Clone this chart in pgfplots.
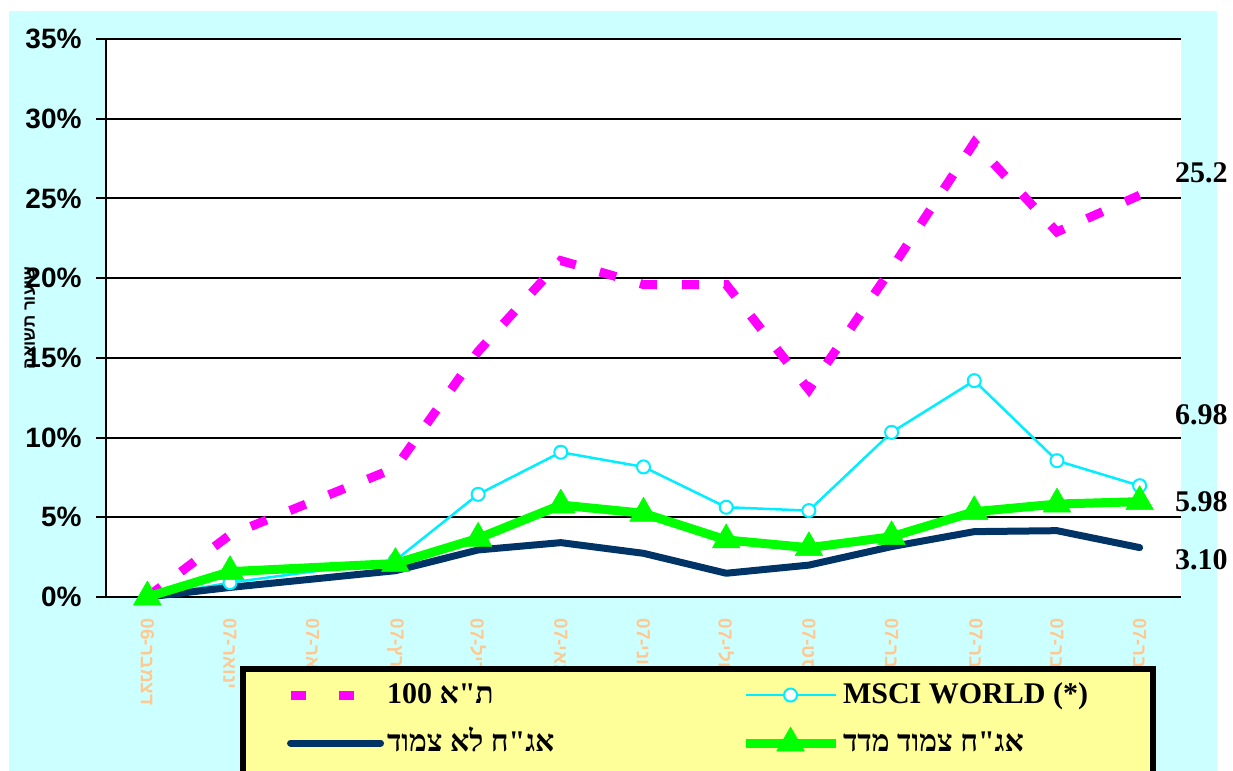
\documentclass[border=0pt]{standalone}
\usepackage{pgfplots}
\pgfplotsset{compat=1.18}
\usepackage{fontspec}
\setmainfont{Liberation Serif}
\newfontfamily\hebserif[Script=Hebrew]{Liberation Serif}
\newfontfamily\hebsans[Script=Hebrew]{Liberation Sans}
\newfontfamily\arialf{Liberation Sans}
\TeXXeTstate=1
\definecolor{bgcyan}{HTML}{CCFFFF}
\definecolor{tamag}{HTML}{FF00FF}
\definecolor{msci}{HTML}{00EEFF}
\definecolor{navyb}{HTML}{003366}
\definecolor{greenb}{HTML}{00FF00}
\definecolor{legy}{HTML}{FFFF99}
\definecolor{tickor}{HTML}{FFC890}
\newcommand{\xl}[1]{\beginR #1-\beginL07\endL\endR}
\pgfplotsset{
  dashleg/.style={legend image code/.code={\draw[##1, dash pattern=on 15bp off 33bp] (0bp,0bp) -- (63bp,0bp);}},
  stdleg/.style={legend image code/.code={\draw[mark repeat=2,mark phase=2,##1] plot coordinates {(0bp,0bp) (45bp,0bp) (90bp,0bp)};}},
}
\begin{document}
\begin{tikzpicture}
\fill[white] (0bp,0bp) rectangle (1233bp,771bp);
\fill[bgcyan] (9bp,0bp) rectangle (1217bp,760bp);
\begin{axis}[
  at={(106bp,174bp)}, anchor=south west, scale only axis,
  width=1075bp, height=558bp,
  xmin=-0.5, xmax=12.5, ymin=0, ymax=35,
  axis background/.style={fill=white},
  clip=false,
  axis x line*=bottom, axis y line*=left,
  axis line style={line width=2.5bp, black, -},
  xtick={0,...,12},
  xticklabels={{\beginR דצמבר-\beginL06\endL\endR},\xl{ינואר},\xl{פברואר},\xl{מרץ},\xl{אפריל},\xl{מאי},\xl{יוני},\xl{יולי},\xl{אוגוסט},\xl{ספטמבר},\xl{אוקטובר},\xl{נובמבר},\xl{דצמבר}},
  x tick style={draw=none},
  xticklabel style={rotate=-90, anchor=west, text=tickor, xshift=8bp, font=\hebsans\bfseries\fontsize{19bp}{22bp}\selectfont},
  ytick={0,5,...,35},
  yticklabels={0\%,5\%,10\%,15\%,20\%,25\%,30\%,35\%},
  ymajorgrids, grid style={black, line width=2bp},
  y tick style={black, line width=2bp}, tick align=outside, major tick length=10bp,
  yticklabel style={font=\arialf\bfseries\fontsize{28bp}{30bp}\selectfont, xshift=-11bp},
  legend style={
    at={(axis description cs:0.1247,-0.1237)}, anchor=north west,
    fill=legy, draw=black, line width=6bp,
    inner xsep=43bp, inner ysep=9bp,
    /tikz/every even column/.append style={column sep=20bp},
    row sep=14bp,
    nodes={inner xsep=3bp, inner ysep=3bp, text height=22bp, text depth=6bp, font=\bfseries\fontsize{30bp}{34bp}\selectfont},
  },
  legend columns=2,
  legend cell align=left,
  stdleg,
]
\addplot[tamag, line width=9bp, dash pattern=on 17bp off 25bp, dashleg]
  coordinates {(0,0) (1,3.9) (3,8.1) (4,15.4) (5,21.1) (6,19.6) (7,19.6) (8,13.0) (9,20.6) (10,28.5) (11,22.9) (12,25.2)};
\addlegendentry{\makebox[331bp][l]{\hebserif\beginR ת"א \beginL100\endL\endR}}
\addplot[msci, line width=2.5bp, mark=*, mark size=6.5bp, mark options={fill=white, draw=msci, line width=2bp}]
  coordinates {(0,0) (1,0.9) (3,2.3) (4,6.44) (5,9.08) (6,8.16) (7,5.63) (8,5.42) (9,10.33) (10,13.57) (11,8.55) (12,6.98)};
\addlegendentry{\makebox[264bp][l]{MSCI WORLD (*)}}
\addplot[navyb, line width=7bp, line cap=round, line join=round]
  coordinates {(0,0) (1,0.6) (3,1.65) (4,2.95) (5,3.41) (6,2.74) (7,1.49) (8,2.0) (9,3.16) (10,4.1) (11,4.16) (12,3.10)};
\addlegendentry{\makebox[331bp][l]{\hebserif\beginR אג"ח לא צמוד\endR}}
\addplot[greenb, line width=9bp, line join=round, mark=triangle*, mark size=16bp, mark options={fill=greenb, draw=greenb, line width=0.5bp}]
  coordinates {(0,0) (1,1.59) (3,2.1) (4,3.68) (5,5.77) (6,5.25) (7,3.58) (8,3.09) (9,3.78) (10,5.35) (11,5.83) (12,5.98)};
\addlegendentry{\makebox[264bp][l]{\hebserif\beginR אג"ח צמוד מדד\endR}}
\addlegendimage{empty legend}\addlegendentry{}
\addlegendimage{empty legend}\addlegendentry{}
\end{axis}
\begin{scope}[every node/.style={anchor=base west, inner sep=0pt, font=\bfseries\fontsize{30bp}{34bp}\selectfont}]
\node at (1175bp,588bp) {25.2};
\node at (1175bp,346bp) {6.98};
\node at (1175bp,259bp) {5.98};
\node at (1175bp,201bp) {3.10};
\end{scope}
\node[rotate=90, font=\hebsans\bfseries\fontsize{17bp}{20bp}\selectfont] at (30bp,453bp) {\beginR שיעור תשואה\endR};
\pgfresetboundingbox
\path (0bp,0bp) rectangle (1233bp,771bp);
\end{tikzpicture}
\end{document}
